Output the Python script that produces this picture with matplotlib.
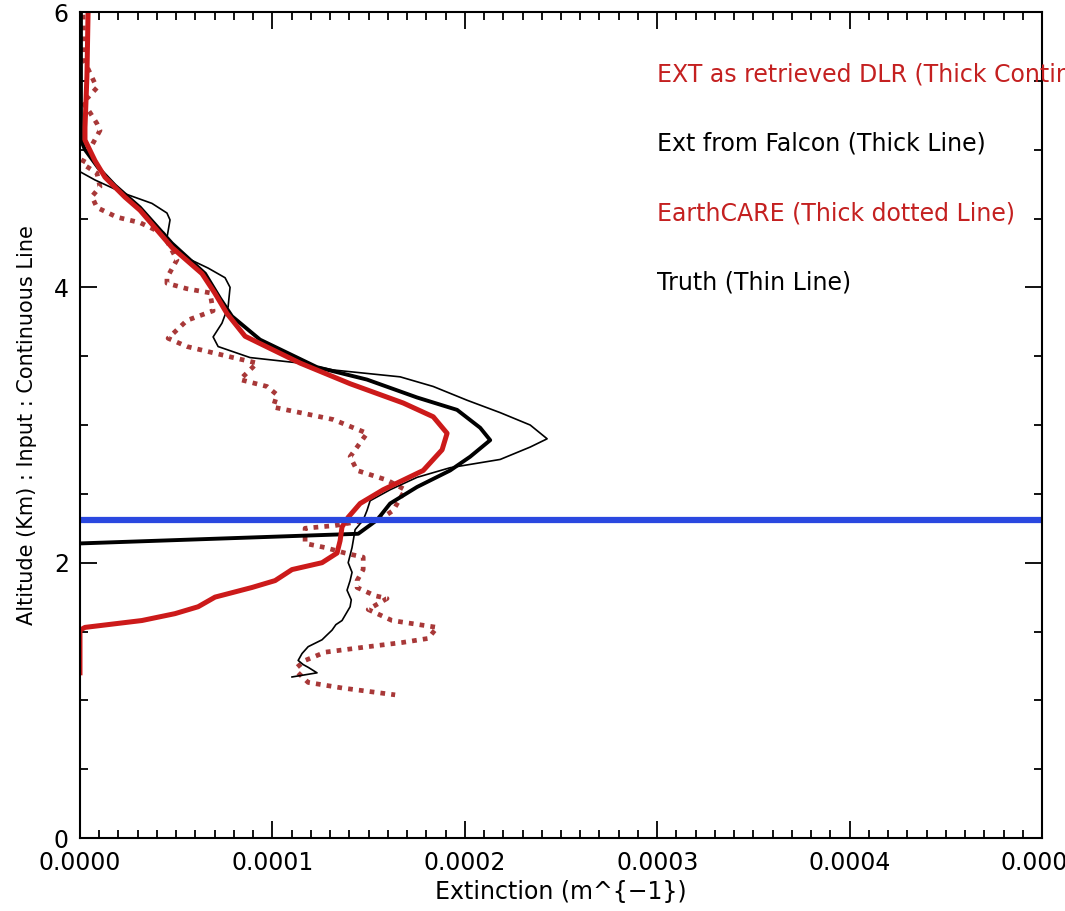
import matplotlib
matplotlib.use("Agg")
import matplotlib.pyplot as plt
from matplotlib.ticker import MultipleLocator, FormatStrFormatter

# extinction values in units of 1e-4 m^-1, altitude in km

# EXT as retrieved DLR (thick red)
dlr_ext = [0.042, 0.036, 0.026, 0.026, 0.078, 0.13, 0.234, 0.312, 0.478, 0.634,
           0.70, 0.764, 0.858, 1.144, 1.404, 1.68, 1.836, 1.908, 1.882, 1.784,
           1.576, 1.456, 1.394, 1.362, 1.352, 1.336, 1.258, 1.102, 1.014, 0.894,
           0.702, 0.614, 0.494, 0.322, 0.026, 0.0, 0.0]
dlr_alt = [5.99, 5.53, 5.16, 5.07, 4.92, 4.80, 4.655, 4.56, 4.29, 4.10,
           3.96, 3.81, 3.645, 3.45, 3.30, 3.16, 3.06, 2.94, 2.82, 2.67,
           2.53, 2.43, 2.33, 2.26, 2.16, 2.07, 2.00, 1.95, 1.87, 1.82,
           1.75, 1.68, 1.63, 1.58, 1.53, 1.51, 1.20]

# Ext from Falcon (thick black)
falcon_ext = [0.005, 0.005, 0.026, 0.094, 0.182, 0.312, 0.478, 0.65, 0.728, 0.79,
              0.936, 1.232, 1.492, 1.752, 1.96, 2.08, 2.132, 2.028, 1.924, 1.752,
              1.612, 1.544, 1.446, 0.0]
falcon_alt = [6.0, 5.07, 5.00, 4.87, 4.74, 4.58, 4.32, 4.10, 3.92, 3.79,
              3.62, 3.42, 3.33, 3.20, 3.11, 2.98, 2.89, 2.77, 2.67, 2.55,
              2.43, 2.31, 2.21, 2.14]

# EarthCARE (thick dotted)
ec_ext = [0.016, 0.021, 0.088, 0.042, 0.010, 0.052, 0.088, 0.104, 0.010, 0.088,
          0.104, 0.062, 0.088, 0.192, 0.312, 0.432, 0.504, 0.452, 0.452, 0.556,
          0.676, 0.692, 0.556, 0.458, 0.556, 0.796, 0.920, 0.832, 0.972, 1.024,
          1.004, 1.144, 1.316, 1.492, 1.404, 1.440, 1.596, 1.690, 1.628, 1.576,
          1.326, 1.170, 1.170, 1.274, 1.378, 1.472, 1.472, 1.440, 1.440, 1.534,
          1.596, 1.498, 1.622, 1.856, 1.810, 1.674, 1.498, 1.274, 1.170, 1.128,
          1.134, 1.186, 1.362, 1.638]
ec_alt = [5.98, 5.65, 5.45, 5.38, 5.35, 5.27, 5.19, 5.14, 4.90, 4.83,
          4.73, 4.66, 4.58, 4.51, 4.47, 4.39, 4.20, 4.07, 4.03, 3.99,
          3.96, 3.83, 3.76, 3.63, 3.57, 3.49, 3.45, 3.33, 3.28, 3.22,
          3.13, 3.09, 3.04, 2.94, 2.77, 2.67, 2.60, 2.53, 2.38, 2.33,
          2.27, 2.25, 2.14, 2.11, 2.07, 2.04, 1.95, 1.87, 1.82, 1.76,
          1.74, 1.66, 1.58, 1.53, 1.45, 1.42, 1.39, 1.35, 1.29, 1.24,
          1.20, 1.13, 1.09, 1.04]

# Truth (thin black)
truth_ext = [0.0, 0.0, 0.078, 0.234, 0.374, 0.452, 0.468, 0.452, 0.458, 0.546,
             0.666, 0.754, 0.78, 0.77, 0.738, 0.692, 0.718, 0.884, 1.144, 1.316,
             1.664, 1.836, 2.012, 2.184, 2.34, 2.428, 2.34, 2.184, 1.924, 1.752,
             1.612, 1.508, 1.492, 1.472, 1.43, 1.414, 1.394, 1.414, 1.404, 1.388,
             1.41, 1.404, 1.362, 1.33, 1.31, 1.28, 1.258, 1.186, 1.154, 1.134,
             1.16, 1.186, 1.232, 1.102]
truth_alt = [6.0, 4.84, 4.78, 4.68, 4.61, 4.54, 4.49, 4.36, 4.32, 4.22,
             4.14, 4.07, 4.00, 3.86, 3.74, 3.64, 3.57, 3.49, 3.45, 3.40,
             3.35, 3.28, 3.18, 3.09, 3.00, 2.90, 2.84, 2.75, 2.69, 2.62,
             2.53, 2.45, 2.38, 2.31, 2.24, 2.11, 2.00, 1.93, 1.87, 1.80,
             1.73, 1.68, 1.58, 1.55, 1.51, 1.47, 1.44, 1.39, 1.34, 1.29,
             1.26, 1.24, 1.20, 1.17]

blue_alt = 2.31

labels = ["EXT as retrieved DLR (Thick Continuous Line)",
          "Ext from Falcon (Thick Line)",
          "EarthCARE (Thick dotted Line)",
          "Truth (Thin Line)"]
label_colors = ["#c42020", "black", "#c42020", "black"]

scale = 1e-4

fig = plt.figure(figsize=(10.65, 9.11), dpi=100)
ax = fig.add_axes([0.0751, 0.0801, 0.9033, 0.9067])

ax.plot([x * scale for x in ec_ext], ec_alt, color="#a83838", lw=3.4,
        linestyle=(0, (1, 1.3)))
ax.plot([x * scale for x in truth_ext], truth_alt, color="black", lw=1.2)
ax.plot([x * scale for x in falcon_ext], falcon_alt, color="black", lw=2.8)
ax.plot([x * scale for x in dlr_ext], dlr_alt, color="#cc1a1a", lw=3.6)
ax.axhline(blue_alt, color="#2a48e0", lw=4.5)

ax.set_xlim(0, 0.0005)
ax.set_ylim(0, 6)
ax.xaxis.set_major_locator(MultipleLocator(0.0001))
ax.xaxis.set_minor_locator(MultipleLocator(0.00001))
ax.xaxis.set_major_formatter(FormatStrFormatter("%.4f"))
ax.yaxis.set_major_locator(MultipleLocator(2))
ax.yaxis.set_minor_locator(MultipleLocator(0.5))

ax.tick_params(which="both", direction="in", top=True, right=True, width=1.3)
ax.tick_params(which="major", length=12)
ax.tick_params(which="minor", length=6)
ax.tick_params(axis="x", which="major", labelsize=17, pad=9)
ax.tick_params(axis="y", which="major", labelsize=17, pad=8)
for s in ax.spines.values():
    s.set_linewidth(1.5)

ax.set_xlabel("Extinction (m^{\u22121})", fontsize=17, labelpad=4)
ax.set_ylabel("Altitude (Km) : Input : Continuous Line", fontsize=15, labelpad=12)

for i, (txt, c) in enumerate(zip(labels, label_colors)):
    ax.text(0.600, 0.924 - i * 0.0837, txt, color=c, fontsize=17,
            transform=ax.transAxes, va="center", ha="left")

fig.savefig("out.png", dpi=100)
